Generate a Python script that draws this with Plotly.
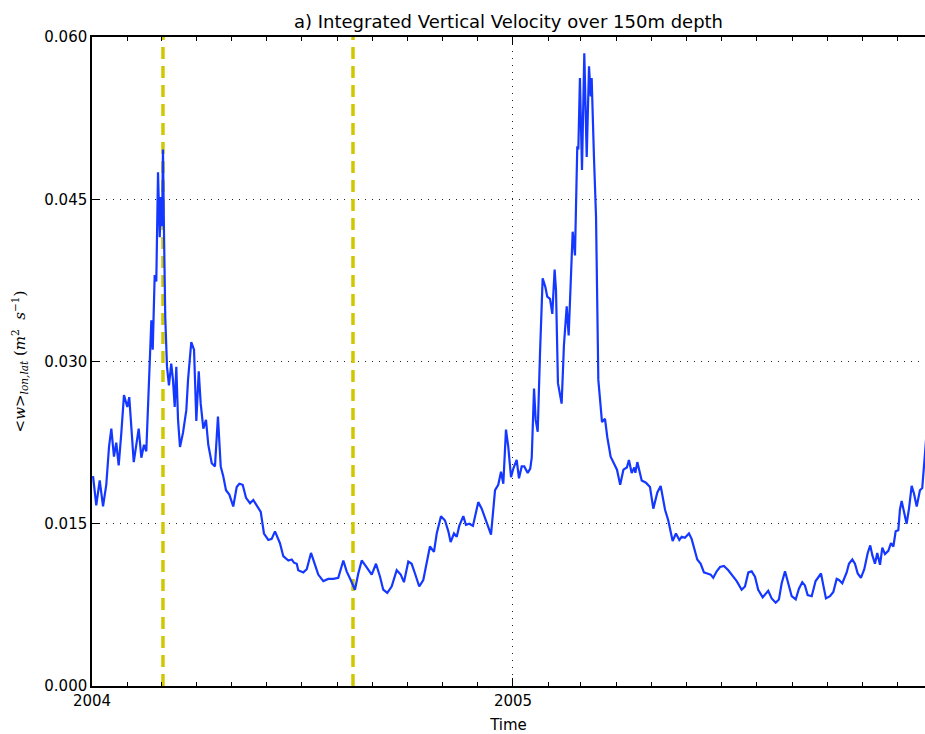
import pandas as pd
import plotly.graph_objects as go

# Days since 2004-01-01 and integrated vertical velocity (m2 s-1)
days = [
    0.9, 3.7, 6.7, 9.6, 12.4, 14.8, 16.8, 19.1, 21.1, 23.2, 25.5, 27.8, 30.7, 32.4,
    36.3, 38.5, 40.6, 42.9, 45.2, 47.2, 50.2, 51.6, 52.8, 54.5, 55.9, 57.4, 58.9,
    59.7, 60.9, 61.7, 62.6, 63.7, 65.2, 66.9, 68.9, 70.4, 71.9, 73.3, 74.8, 76.5,
    79.1, 82.0, 83.5, 86.3, 88.7, 90.7, 92.8, 94.5, 96.8, 99.1, 101.1, 104.1, 106.9,
    109.5, 111.9, 114.1, 116.5, 119.4, 122.8, 125.8, 128.1, 131.0, 133.9, 137.4,
    140.2, 144.6, 146.7, 149.5, 153.3, 156.2, 159.1, 163.4, 166.3, 170.7, 173.6,
    175.6, 178.0, 179.3, 183.7, 186.7, 190.4, 193.9, 196.7, 201.1, 205.4, 209.8,
    214.1, 218.5, 221.4, 224.9, 228.6, 231.5, 234.5, 237.3, 240.2, 243.2, 246.9,
    250.4, 253.2, 256.7, 260.5, 264.9, 268.4, 271.2, 275.0, 277.9, 280.8, 284.5,
    288.0, 291.0, 293.8, 297.3, 299.7, 303.4, 306.9, 309.8, 311.8, 314.7, 317.1,
    319.3, 322.8, 325.1, 328.0, 331.2, 335.8, 338.8, 341.7, 345.1, 346.9, 350.4,
    353.2, 355.6, 357.6, 359.9, 361.9, 364.3, 366.3, 369.2, 371.2, 373.6, 375.8,
    378.8, 381.0, 382.3, 384.3, 385.7, 387.5, 389.5, 391.8, 394.1, 395.8, 398.2,
    400.2, 402.2, 403.4, 405.1, 408.3, 410.3, 412.7, 414.4, 416.2, 417.9, 419.9,
    421.9, 422.8, 424.2, 426.0, 428.0, 430.1, 432.1, 433.6, 434.4, 436.4, 438.2,
    440.2, 441.6, 443.4, 446.0, 448.0, 450.9, 453.8, 456.4, 459.2, 462.0, 465.0,
    466.8, 469.2, 471.5, 472.4, 474.1, 477.9, 481.6, 485.1, 488.0, 491.5, 494.4,
    498.2, 501.0, 504.8, 507.7, 510.6, 512.7, 515.5, 519.0, 521.3, 524.2, 526.2,
    529.2, 532.0, 534.9, 537.9, 540.1, 543.1, 546.0, 549.4, 553.2, 557.0, 560.5,
    564.8, 567.7, 570.6, 573.5, 576.4, 579.2, 583.1, 586.6, 587.9, 590.9, 594.4,
    597.2, 599.6, 602.5, 605.3, 608.3, 611.8, 614.6, 617.5, 619.8, 622.2, 625.7,
    629.1, 631.4, 633.8, 635.8, 638.1, 641.6, 644.5, 647.4, 649.4, 652.3, 656.1,
    658.1, 661.0, 663.3, 665.7, 668.5, 671.4, 674.4, 676.6, 678.4, 680.7, 682.7,
    685.1, 687.1, 689.4, 692.3, 694.6, 696.7, 698.7, 701.0, 702.4, 703.9, 706.2,
    708.2, 710.3, 712.6, 714.6, 717.0, 719.8, 721.8, 724.2, 726.0,
]
w_int = [
    0.0194, 0.0167, 0.0190, 0.0166, 0.0186, 0.0221, 0.0238, 0.0212, 0.0225, 0.0204,
    0.0234, 0.0269, 0.0258, 0.0267, 0.0207, 0.0223, 0.0238, 0.0211, 0.0223, 0.0217,
    0.0304, 0.0338, 0.0311, 0.0380, 0.0374, 0.0475, 0.0415, 0.0452, 0.0425, 0.0496,
    0.0419, 0.0341, 0.0295, 0.0278, 0.0298, 0.0283, 0.0258, 0.0295, 0.0246, 0.0221,
    0.0234, 0.0255, 0.0283, 0.0318, 0.0311, 0.0245, 0.0291, 0.0261, 0.0238, 0.0246,
    0.0223, 0.0206, 0.0203, 0.0249, 0.0203, 0.0194, 0.0181, 0.0177, 0.0166, 0.0184,
    0.0187, 0.0186, 0.0174, 0.0169, 0.0172, 0.0164, 0.0161, 0.0141, 0.0135, 0.0136,
    0.0143, 0.0132, 0.0120, 0.0116, 0.0117, 0.0114, 0.0113, 0.0107, 0.0105, 0.0108,
    0.0123, 0.0112, 0.0103, 0.0097, 0.0099, 0.0099, 0.0100, 0.0116, 0.0106, 0.0098,
    0.0089, 0.0104, 0.0116, 0.0112, 0.0107, 0.0103, 0.0113, 0.0101, 0.0089, 0.0086,
    0.0092, 0.0107, 0.0103, 0.0096, 0.0115, 0.0113, 0.0104, 0.0092, 0.0098, 0.0113,
    0.0129, 0.0124, 0.0141, 0.0157, 0.0153, 0.0143, 0.0133, 0.0141, 0.0138, 0.0148,
    0.0157, 0.0149, 0.0150, 0.0148, 0.0170, 0.0164, 0.0155, 0.0145, 0.0140, 0.0181,
    0.0186, 0.0198, 0.0187, 0.0237, 0.0221, 0.0193, 0.0201, 0.0209, 0.0192, 0.0203,
    0.0203, 0.0197, 0.0201, 0.0211, 0.0275, 0.0246, 0.0235, 0.0308, 0.0377, 0.0369,
    0.0360, 0.0358, 0.0344, 0.0385, 0.0366, 0.0280, 0.0261, 0.0315, 0.0351, 0.0324,
    0.0372, 0.0420, 0.0398, 0.0499, 0.0496, 0.0562, 0.0477, 0.0585, 0.0489, 0.0573,
    0.0545, 0.0562, 0.0489, 0.0434, 0.0283, 0.0267, 0.0244, 0.0247, 0.0230, 0.0212,
    0.0205, 0.0200, 0.0186, 0.0200, 0.0202, 0.0209, 0.0197, 0.0202, 0.0197, 0.0207,
    0.0190, 0.0188, 0.0184, 0.0164, 0.0179, 0.0185, 0.0163, 0.0153, 0.0134, 0.0141,
    0.0135, 0.0138, 0.0137, 0.0141, 0.0136, 0.0123, 0.0117, 0.0113, 0.0105, 0.0104,
    0.0103, 0.0100, 0.0106, 0.0110, 0.0111, 0.0107, 0.0102, 0.0097, 0.0089, 0.0092,
    0.0105, 0.0106, 0.0101, 0.0089, 0.0082, 0.0086, 0.0088, 0.0081, 0.0077, 0.0080,
    0.0095, 0.0106, 0.0096, 0.0083, 0.0080, 0.0090, 0.0096, 0.0093, 0.0084, 0.0083,
    0.0097, 0.0100, 0.0104, 0.0093, 0.0081, 0.0083, 0.0087, 0.0099, 0.0098, 0.0095,
    0.0105, 0.0113, 0.0117, 0.0113, 0.0104, 0.0100, 0.0108, 0.0123, 0.0130, 0.0121,
    0.0113, 0.0123, 0.0112, 0.0128, 0.0122, 0.0125, 0.0132, 0.0129, 0.0143, 0.0144,
    0.0163, 0.0171, 0.0161, 0.0150, 0.0164, 0.0185, 0.0178, 0.0166, 0.0181, 0.0183,
    0.0215, 0.0240,
]

# event markers (days since 2004-01-01)
event_days = [61.7, 226.9]
x_end_day = 724.2

y_ticks = [0.0, 0.015, 0.030, 0.045, 0.060]
y_labels = ["0.000", "0.015", "0.030", "0.045", "0.060"]

start = pd.Timestamp("2004-01-01")
dates = start + pd.to_timedelta(days, unit="D")

fig = go.Figure()

for d in event_days:
    t = start + pd.Timedelta(days=d)
    fig.add_trace(go.Scatter(
        x=[t, t], y=[0, 0.06], mode="lines",
        line=dict(color="#cfc800", width=3.5, dash="12px,7px"),
        showlegend=False, hoverinfo="skip",
    ))

fig.add_trace(go.Scatter(
    x=dates, y=w_int, mode="lines",
    line=dict(color="#1438ff", width=2.2),
    showlegend=False,
))

font = "DejaVu Sans, Verdana, sans-serif"

fig.update_layout(
    width=925, height=734,
    margin=dict(l=92, r=0, t=37, b=48),
    plot_bgcolor="white", paper_bgcolor="white",
    font=dict(family=font, size=15, color="black"),
    title=dict(
        text="a) Integrated Vertical Velocity over 150m depth",
        x=0.5, xref="paper", y=1 - 22 / 734, yref="container",
        xanchor="center", yanchor="middle",
        font=dict(size=18, family=font, color="black"),
    ),
)

fig.update_xaxes(
    type="date",
    range=[start, start + pd.Timedelta(days=x_end_day)],
    tick0="2004-01-01", dtick="M12", tickformat="%Y",
    ticks="inside", ticklen=8, tickwidth=1, tickcolor="black",
    minor=dict(dtick="M1", tick0="2004-01-01", ticks="inside", ticklen=4,
               tickcolor="black", showgrid=False),
    showline=True, linecolor="black", linewidth=1.5, mirror="ticks",
    showgrid=True, gridcolor="#222", gridwidth=1, griddash="1px,6px",
    zeroline=False,
    title=dict(text="Time", standoff=12, font=dict(size=15)),
    tickfont=dict(size=15),
)

# right spine falls outside the cropped figure, so no mirror on y
fig.update_yaxes(
    range=[0, 0.06],
    tickvals=y_ticks, ticktext=y_labels,
    ticks="inside", ticklen=8, tickwidth=1, tickcolor="black",
    showline=True, linecolor="black", linewidth=1.5, mirror=False,
    showgrid=True, gridcolor="#222", gridwidth=1, griddash="1px,6px",
    zeroline=False,
    title=dict(
        text="&lt;<i>w</i>&gt;<sub><i>lon,lat</i></sub> (<i>m</i><sup>2</sup>  <i>s</i><sup>\u22121</sup>)",
        standoff=15,
        font=dict(family="DejaVu Serif, Liberation Serif, serif", size=15),
    ),
    tickfont=dict(size=15),
)

# page body has a default margin; drop it so the figure sits at the window corner
fig.write_html(
    "out.html",
    config={"displayModeBar": False},
    post_script="document.body.style.margin='0';",
)
